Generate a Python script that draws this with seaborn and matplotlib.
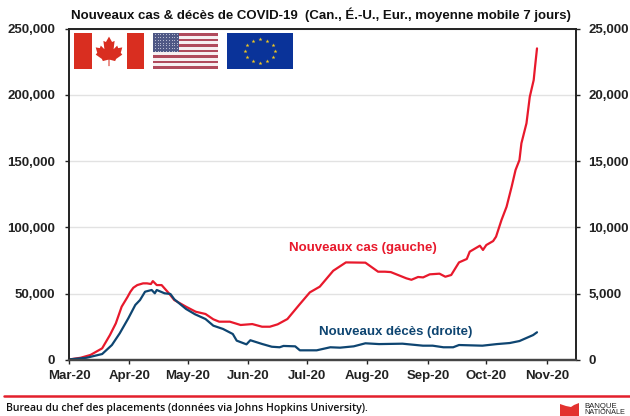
import numpy as np
import pandas as pd
import matplotlib
matplotlib.use('Agg')
import matplotlib.pyplot as plt
import matplotlib.patches as mpatches
import seaborn as sns

# days since 2020-03-01
case_days = [0.5, 6, 11, 17, 21, 24, 27, 30, 31.5, 33, 35, 38, 40, 42, 43, 45, 47.5, 51, 54, 60, 65, 70, 74, 77, 82.5,
             88, 94, 99, 103, 107, 112, 118, 123.5, 128.6, 135.5, 142, 152, 158.5, 162, 165, 173, 175.6, 179, 181.6,
             185, 190, 193, 196, 200, 204, 205.5, 210.7, 212.3, 214, 217.5, 219, 221.8, 224.4, 227, 229, 231, 232,
             234.6, 236.3, 238.3, 239, 240]
cases = [500, 1700, 3800, 8800, 18850, 27600, 40200, 47500, 51500, 54500, 56500, 57800, 57800, 57300, 59500, 56500,
         56500, 50700, 45200, 40200, 36400, 34700, 30700, 28900, 28900, 26400, 27100, 25100, 25100, 26900, 30900, 41500,
         51000, 55300, 67300, 73600, 73400, 66600, 66600, 66300, 61600, 60500, 62600, 62300, 64600, 65100, 62800, 64100,
         73600, 76200, 81700, 86200, 83000, 86700, 89700, 93000, 105600, 115600, 130700, 143300, 150800, 163400, 178500,
         198500, 211100, 221200, 235000]

death_days = [0.5, 9, 17, 22, 26, 30.4, 34, 36.4, 39, 42.4, 44, 45, 49, 52, 54, 60, 64.6, 70, 74, 79, 84, 86, 91, 93,
              99, 104, 108, 110, 116, 118.4, 127, 134, 139, 146, 152, 159, 171, 181.5, 186.5, 192, 197, 200, 212,
              219.4, 226, 231, 238, 240]
deaths = [50, 170, 450, 1130, 2010, 3140, 4150, 4520, 5150, 5280, 5030, 5280, 5030, 4980, 4580, 3850, 3450, 3090, 2590,
          2340, 1960, 1460, 1180, 1490, 1210, 1000, 960, 1060, 1030, 730, 730, 960, 930, 1030, 1260, 1200, 1230, 1080,
          1080, 960, 960, 1130, 1080, 1200, 1280, 1430, 1880, 2090]

month_starts = ['2020-03-01', '2020-04-01', '2020-05-01', '2020-06-01', '2020-07-01', '2020-08-01', '2020-09-01',
                '2020-10-01', '2020-11-01']
month_labels = ['Mar-20', 'Apr-20', 'May-20', 'Jun-20', 'Jul-20', 'Aug-20', 'Sep-20', 'Oct-20', 'Nov-20']
left_ticks = [0, 50000, 100000, 150000, 200000, 250000]
right_ticks = [0, 5000, 10000, 15000, 20000, 25000]

RED = '#e8192c'
NAVY = '#0e4571'
DARK = '#222222'

sns.set_theme(style='white')
plt.rcParams['font.family'] = ['Liberation Sans', 'DejaVu Sans']

start = pd.Timestamp('2020-03-01')
df_cases = pd.DataFrame({'date': start + pd.to_timedelta(case_days, unit='D'), 'value': cases})
df_deaths = pd.DataFrame({'date': start + pd.to_timedelta(death_days, unit='D'), 'value': deaths})

W, H = 630, 416
fig = plt.figure(figsize=(6.3, 4.16), dpi=100)
ax1 = fig.add_axes([69 / W, 1 - 360 / H, (576 - 69) / W, (360 - 28.5) / H])

sns.lineplot(data=df_cases, x='date', y='value', ax=ax1, color=RED, linewidth=1.6)
ax1.set_ylim(0, 250000)
ax1.set_xlim(start, pd.Timestamp('2020-11-16'))
ax1.set_xticks(pd.to_datetime(month_starts))
ax1.set_xticklabels(month_labels, fontsize=9.5, fontweight='bold', color=DARK)
ax1.set_yticks(left_ticks)
ax1.set_yticklabels([f'{v:,}' for v in left_ticks], fontsize=9.5, fontweight='bold', color=DARK)
ax1.set_xlabel('')
ax1.set_ylabel('')
ax1.yaxis.grid(True, color='#e2e2e2', linewidth=1)
ax1.set_axisbelow(True)
ax1.tick_params(axis='y', length=3, width=1, color=DARK, pad=7, left=True)
ax1.tick_params(axis='x', length=3, width=1, color=DARK, pad=4.5, bottom=True)

ax2 = ax1.twinx()
sns.lineplot(data=df_deaths, x='date', y='value', ax=ax2, color=NAVY, linewidth=1.6)
ax2.set_ylim(0, 25000)
ax2.set_yticks(right_ticks)
ax2.set_yticklabels([f'{v:,}' for v in right_ticks], fontsize=9.5, fontweight='bold', color=DARK)
ax2.set_ylabel('')
ax2.tick_params(axis='y', length=3, width=1, color=DARK, pad=6, right=True)
ax2.grid(False)

for ax in (ax1, ax2):
    for side in ax.spines.values():
        side.set_color(DARK)
        side.set_linewidth(1.2)
    ax.spines['bottom'].set_color('#444444')
    ax.spines['bottom'].set_linewidth(1.6)

fig.text(321 / W, 1 - 15 / H, 'Nouveaux cas & décès de COVID-19  (Can., É.-U., Eur., moyenne mobile 7 jours)',
         ha='center', va='center', fontsize=9.5, fontweight='bold', color='#111111')
fig.text(289 / W, 1 - 247.5 / H, 'Nouveaux cas (gauche)', ha='left', va='center', fontsize=9.5, fontweight='bold',
         color=RED)
fig.text(319 / W, 1 - 331.5 / H, 'Nouveaux décès (droite)', ha='left', va='center', fontsize=9.5, fontweight='bold',
         color=NAVY)


def flag_axes(x0, x1, y0=33, y1=69):
    a = fig.add_axes([x0 / W, 1 - y1 / H, (x1 - x0) / W, (y1 - y0) / H], zorder=5)
    a.set_xlim(0, 1)
    a.set_ylim(0, 1)
    a.axis('off')
    return a


# Canada
a = flag_axes(74, 144)
a.add_patch(mpatches.Rectangle((0, 0), 0.25, 1, color='#d92e20', lw=0))
a.add_patch(mpatches.Rectangle((0.75, 0), 0.25, 1, color='#d92e20', lw=0))
leaf_x = np.array([.5, .44, .39, .41, .34, .32, .24, .27, .24, .36, .38, .49, .49, .51, .51, .62, .64, .76, .73, .76,
                   .68, .66, .59, .61, .56])
leaf_y = [.9, .75, .78, .55, .65, .58, .6, .45, .4, .28, .22, .26, .08, .08, .26, .22, .28, .4, .45, .6, .58, .65, .55,
          .78, .75]
a.add_patch(mpatches.Polygon(np.column_stack([0.5 + (leaf_x - 0.5) * 0.73, leaf_y]), color='#d92e20', lw=0))

# USA
a = flag_axes(153, 218)
for i in range(13):
    a.add_patch(mpatches.Rectangle((0, i / 13), 1, 1 / 13, color='#b04a5c' if i % 2 == 0 else '#f6eff1', lw=0))
a.add_patch(mpatches.Rectangle((0, 6 / 13), 0.4, 7 / 13, color='#4f5885', lw=0, zorder=3))
sx, sy = np.meshgrid(np.linspace(0.03, 0.37, 9), np.linspace(0.5, 0.96, 7))
a.scatter(sx.ravel(), sy.ravel(), s=0.6, color='#c9cbdd', lw=0, zorder=4)

# EU
a = flag_axes(227, 293)
a.add_patch(mpatches.Rectangle((0, 0), 1, 1, color='#0a3399', lw=0))
ang = np.deg2rad(np.arange(0, 360, 30))
a.scatter(0.5 + 0.22 * np.cos(ang), 0.5 + 0.33 * np.sin(ang), s=9, marker='*', color='#f2c81e', lw=0)

# footer
fig.add_artist(plt.Line2D([4 / W, 1], [1 - 396 / H, 1 - 396 / H], color='#e3202c', linewidth=1.8))
fig.text(6 / W, 1 - 408 / H, 'Bureau du chef des placements (données via Johns Hopkins University).',
         ha='left', va='center', fontsize=7.6, fontweight='semibold', family=['Open Sans', 'DejaVu Sans'],
         color='#111111')
logo_x = [560, 566, 571, 574, 579, 579, 560]
logo_y = [404, 406, 407, 405, 403, 417, 417]
fig.add_artist(mpatches.Polygon(np.column_stack([np.array(logo_x) / W, 1 - np.array(logo_y) / H]),
                                transform=fig.transFigure, color='#e3322f', lw=0))
fig.text(584 / W, 1 - 406 / H, 'BANQUE', ha='left', va='center', fontsize=5.6, color='#222222')
fig.text(584 / W, 1 - 412 / H, 'NATIONALE', ha='left', va='center', fontsize=5.2, color='#222222')

fig.savefig('out.png', dpi=100)
